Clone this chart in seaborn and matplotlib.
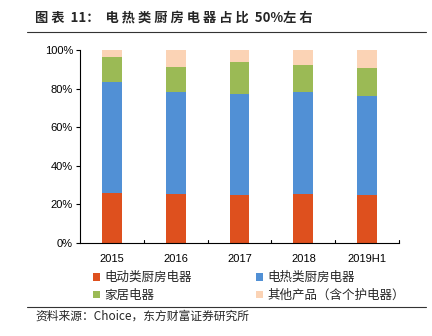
import matplotlib
matplotlib.use("Agg")
import matplotlib.pyplot as plt
import seaborn as sns
import pandas as pd
import numpy as np
from matplotlib.patches import Patch
from matplotlib.lines import Line2D

years = ["2015", "2016", "2017", "2018", "2019H1"]
series_names = ["电动类厨房电器", "电热类厨房电器", "家居电器", "其他产品（含个护电器）"]
electric_kitchen = [25.7, 25.2, 24.9, 25.2, 24.7]
heating_kitchen = [57.9, 53.2, 52.1, 53.2, 51.6]
home_appliance = [12.6, 12.9, 16.8, 13.7, 14.4]
others = [3.8, 8.7, 6.2, 7.9, 9.3]
yticks = [0, 20, 40, 60, 80, 100]
colors = ["#DE501E", "#5190D5", "#9BBA55", "#FBD3B5"]

sns.set_theme(style="white")
plt.rcParams['font.family'] = ['Liberation Sans', 'Noto Sans CJK SC', 'DejaVu Sans']
cjk = ['Noto Sans CJK SC', 'DejaVu Sans']

fig = plt.figure(figsize=(4.32, 3.36), dpi=100)
ax = fig.add_axes([0.185, 0.277, 0.739, 0.574])

layers = [electric_kitchen, heating_kitchen, home_appliance, others]
cum = np.cumsum(np.array(layers), axis=0)
for i in range(len(layers) - 1, -1, -1):
    df = pd.DataFrame({"year": years, "val": cum[i]})
    sns.barplot(data=df, x="year", y="val", color=colors[i], width=0.31,
                saturation=1, ax=ax, linewidth=0)

ax.set_ylim(0, 100)
ax.set_xlim(-0.5, len(years) - 0.5)
ax.set_yticks(yticks)
ax.set_yticklabels([f"{t}%" for t in yticks], fontsize=8)
ax.set_xticks(range(len(years)))
ax.set_xticklabels(years, fontsize=8)
ax.set_xlabel("")
ax.set_ylabel("")
for s in ["top", "right"]:
    ax.spines[s].set_visible(False)
for s in ["left", "bottom"]:
    ax.spines[s].set_color("black")
    ax.spines[s].set_linewidth(0.8)
ax.tick_params(axis="x", length=0, pad=8, colors="black")
ax.tick_params(axis="y", length=3, width=0.8, direction="out", left=True, pad=2, colors="black")
# category boundary ticks on x axis
for b in np.arange(0.5, len(years), 1.0):
    ax.plot([b, b], [0, 1.6], color="black", lw=0.8, clip_on=False)

order = [0, 2, 1, 3]
handles = [Patch(facecolor=colors[k], edgecolor="none") for k in order]
labels = [series_names[k] for k in order]
leg = fig.legend(handles, labels, loc="upper left", bbox_to_anchor=(0.19, 0.226),
                 ncol=2, frameon=False, prop={"family": cjk, "size": 9},
                 handlelength=0.55, handleheight=0.55, handletextpad=0.3,
                 columnspacing=5.2, labelspacing=0.35)

fig.text(0.08, 0.948, "图 表  11：  电 热 类 厨 房 电 器 占 比  50%左 右", fontsize=9.5,
         fontweight="bold", family=cjk, va="center", ha="left")
fig.add_artist(Line2D([0.062, 0.985], [0.905, 0.905], color="#333333", lw=0.8))
fig.add_artist(Line2D([0.062, 0.985], [0.087, 0.087], color="#333333", lw=0.8))
fig.text(0.083, 0.058, "资料来源：Choice，东方财富证券研究所", fontsize=8.5,
         family=cjk, va="center", ha="left")

fig.savefig("out.png", dpi=100)
